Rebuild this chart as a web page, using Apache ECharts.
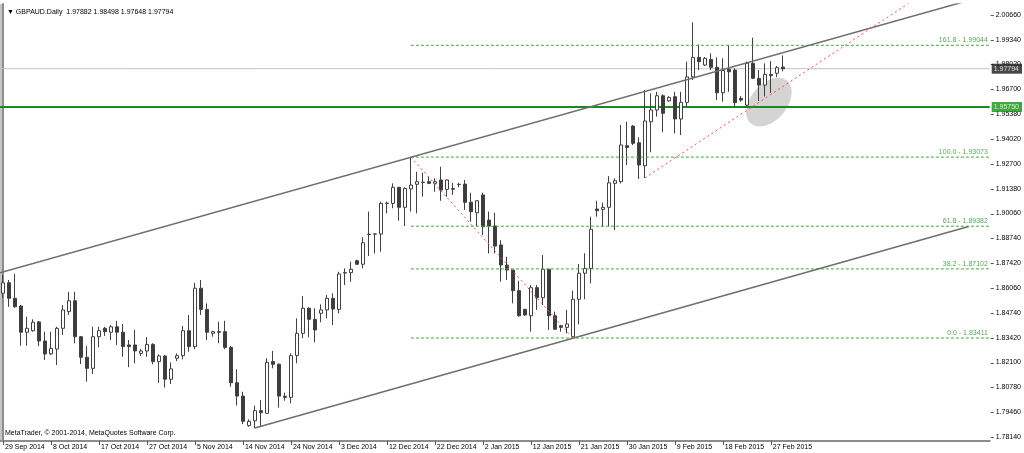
<!DOCTYPE html>
<html><head><meta charset="utf-8">
<script src="https://cdn.jsdelivr.net/npm/echarts@6/dist/echarts.min.js"></script>
<style>html,body{margin:0;padding:0;background:#fff}#c{width:1024px;height:453px}</style>
</head><body><div id="c"></div>
<script>
const symbolName = 'GBPAUD.Daily';
const copyrightText = 'MetaTrader, \u00a9 2001-2014, MetaQuotes Software Corp.';
const tickLabels = ['29 Sep 2014','8 Oct 2014','17 Oct 2014','27 Oct 2014','5 Nov 2014','14 Nov 2014','24 Nov 2014','3 Dec 2014','12 Dec 2014','22 Dec 2014','2 Jan 2015','12 Jan 2015','21 Jan 2015','30 Jan 2015','9 Feb 2015','18 Feb 2015','27 Feb 2015'];
const tickStep = 8;
const totalSlots = 165;
const priceTicks = [2.00660,1.99340,1.98020,1.96700,1.95380,1.94020,1.92700,1.91380,1.90060,1.88740,1.87420,1.86060,1.84740,1.83420,1.82100,1.80780,1.79460,1.78140];

const opens = [1.8580,1.8636,1.8553,1.8512,1.8372,1.8380,1.8427,1.8325,1.8256,1.8282,
1.8393,1.8482,1.8540,1.8348,1.8238,1.8179,1.8348,1.8393,1.8372,1.8401,
1.8372,1.8304,1.8304,1.8259,1.8272,1.8307,1.8215,1.8245,1.8121,1.8233,
1.8247,1.8380,1.8295,1.8607,1.8494,1.8366,1.8375,1.8375,1.8291,1.8102,
1.8031,1.7873,1.7899,1.7953,1.7939,1.8215,1.8201,1.8030,1.8024,1.8247,
1.8366,1.8500,1.8441,1.8473,1.8491,1.8553,1.8494,1.8688,1.8690,1.8754,
1.8735,1.8894,1.8896,1.8896,1.9060,1.9060,1.9146,1.9039,1.9137,1.9162,
1.9172,1.9176,1.9167,1.9185,1.9135,1.9135,1.9161,1.9163,1.9066,1.9010,
1.9105,1.8971,1.8939,1.8838,1.8731,1.8704,1.8594,1.8494,1.8460,1.8610,
1.8556,1.8708,1.8460,1.8407,1.8398,1.8348,1.8548,1.8687,1.8713,1.9030,
1.9028,1.9039,1.9167,1.9176,1.9368,1.9473,1.9384,1.9261,1.9496,1.9559,
1.9635,1.9608,1.9630,1.9511,1.9600,1.9736,1.9840,1.9799,1.9829,1.9787,
1.9651,1.9776,1.9772,1.9621,1.9585,1.9808,1.9728,1.9692,1.9749,1.9755,
1.97882];
const highs = [1.8678,1.8651,1.8683,1.8517,1.8455,1.8441,1.8432,1.8375,1.8375,1.8401,
1.8517,1.8588,1.8588,1.8352,1.8298,1.8401,1.8401,1.8401,1.8410,1.8433,
1.8416,1.8330,1.8384,1.8282,1.8346,1.8313,1.8254,1.8250,1.8211,1.8259,
1.8405,1.8464,1.8636,1.8651,1.8526,1.8380,1.8428,1.8433,1.8298,1.8174,
1.8054,1.7907,1.7980,1.8010,1.8233,1.8272,1.8205,1.8049,1.8259,1.8446,
1.8565,1.8505,1.8500,1.8521,1.8571,1.8580,1.8695,1.8713,1.8749,1.8759,
1.8879,1.9016,1.8900,1.9069,1.9069,1.9167,1.9148,1.9146,1.9307,1.9229,
1.9224,1.9202,1.9194,1.9256,1.9189,1.9170,1.9170,1.9185,1.9117,1.9078,
1.9117,1.9016,1.9010,1.8864,1.8775,1.8706,1.8647,1.8497,1.8624,1.8624,
1.8784,1.8710,1.8482,1.8410,1.8491,1.8594,1.8736,1.8794,1.8989,1.9074,
1.9064,1.9206,1.9194,1.9479,1.9496,1.9479,1.9413,1.9665,1.9648,1.9656,
1.9642,1.9633,1.9656,1.9656,1.9817,2.0027,1.9909,1.9842,1.9861,1.9840,
1.9835,1.9906,1.9781,1.9633,1.9817,1.9945,1.9772,1.9808,1.9820,1.9794,
1.98498];
const lows = [1.8555,1.8508,1.8503,1.8300,1.8300,1.8375,1.8298,1.8224,1.8250,1.8197,
1.8357,1.8464,1.8313,1.8202,1.8108,1.8149,1.8291,1.8352,1.8330,1.8304,
1.8241,1.8185,1.8206,1.8245,1.8241,1.8201,1.8102,1.8076,1.8095,1.8218,
1.8227,1.8268,1.8281,1.8464,1.8330,1.8348,1.8313,1.8281,1.8081,1.7980,
1.7882,1.7867,1.7859,1.7867,1.7936,1.8179,1.7969,1.8006,1.7992,1.8206,
1.8340,1.8345,1.8318,1.8425,1.8446,1.8410,1.8473,1.8624,1.8642,1.8731,
1.8713,1.8779,1.8793,1.8802,1.9007,1.9034,1.8968,1.8939,1.9016,1.9007,
1.9096,1.9163,1.9122,1.9074,1.9096,1.9105,1.9146,1.9025,1.8962,1.8939,
1.8891,1.8793,1.8793,1.8642,1.8651,1.8526,1.8455,1.8460,1.8375,1.8491,
1.8517,1.8384,1.8384,1.8375,1.8366,1.83411,1.8414,1.8548,1.8633,1.8989,
1.8935,1.8935,1.8918,1.9167,1.9265,1.9372,1.9190,1.9196,1.9333,1.9523,
1.9440,1.9603,1.9434,1.9425,1.9576,1.9719,1.9772,1.9793,1.9772,1.9612,
1.9603,1.9656,1.9577,1.9603,1.9573,1.9724,1.9607,1.9631,1.9650,1.9734,
1.97648];
const closes = [1.8636,1.8553,1.8508,1.8372,1.8393,1.8425,1.8325,1.8256,1.8286,1.8393,
1.8491,1.8540,1.8348,1.8238,1.8179,1.8348,1.8380,1.8375,1.8401,1.8372,
1.8295,1.8295,1.8272,1.8272,1.8307,1.8215,1.8245,1.8121,1.8176,1.8247,
1.8380,1.8295,1.8607,1.8494,1.8372,1.8375,1.8372,1.8291,1.8102,1.8031,
1.7896,1.7896,1.7953,1.7942,1.8211,1.8201,1.8031,1.8024,1.8247,1.8366,
1.8500,1.8441,1.8384,1.8491,1.8553,1.8496,1.8683,1.8690,1.8708,1.8735,
1.8850,1.8896,1.8897,1.9060,1.9061,1.9146,1.9039,1.9140,1.9158,1.9176,
1.9173,1.9167,1.9176,1.9131,1.9185,1.9140,1.9162,1.9066,1.9016,1.9074,
1.8935,1.8939,1.8832,1.8731,1.8704,1.8594,1.8460,1.8464,1.8610,1.8556,
1.8708,1.8460,1.8388,1.8398,1.8416,1.8548,1.8687,1.8713,1.8922,1.9021,
1.9039,1.9170,1.9181,1.9372,1.9359,1.9381,1.9265,1.9500,1.9559,1.9635,
1.9541,1.9626,1.9511,1.9600,1.9736,1.9840,1.9817,1.9835,1.9787,1.9651,
1.9770,1.9763,1.9598,1.9612,1.9808,1.9728,1.9692,1.9749,1.9742,1.9785,
1.97794];

const fibLevels = [161.8, 100.0, 61.8, 38.2, 0.0];
const fibPrices = [1.99044, 1.93073, 1.89382, 1.87102, 1.83411];
const fibStart = 68;
const fibEnd = 164.5;
const fibLabelAt = 164.2;
const lastPrice = 1.97794;
const supportPrice = 1.95750;
const channelUpper = [[-0.5, 1.8690], [161, 2.0144]];
const channelLower = [[42, 1.7860], [161, 1.8937]];
const redLine1 = [[68, 1.9307], [95, 1.83411]];
const redLine2 = [[107, 1.9196], [160, 2.0320]];
const ellipseCenter = [127.7, 1.9601];

const FONT = 'Liberation Sans';
const Y_MIN = 1.7791, Y_MAX = 2.0125;
const categories = Array.from({length: totalSlots}, (_, k) =>
  (k % tickStep === 0 && tickLabels[k / tickStep]) ? tickLabels[k / tickStep] : '');
const candleData = opens.map((o, i) => [o, closes[i], lows[i], highs[i]]);
const last = opens.length - 1;
const titleText = '\u25BC ' + symbolName + '  ' + [opens[last], highs[last], lows[last], closes[last]].map(v => v.toFixed(5)).join(' ');

const chart = echarts.init(document.getElementById('c'), null, {renderer: 'canvas'});
const lineSeries = (data, color, width, type, z) => ({
  type: 'line', xAxisIndex: 1, yAxisIndex: 0, data: data, symbol: 'none', silent: true,
  lineStyle: {color: color, width: width, type: type}, z: z, clip: true, animation: false
});
const priceBox = (p, bg) => ({
  type: 'scatter', xAxisIndex: 1, yAxisIndex: 0, silent: true, z: 10, symbolSize: 0, clip: false,
  data: [[fibEnd, p]],
  label: {show: true, position: 'right', distance: 2, formatter: () => p.toFixed(5),
    backgroundColor: bg, color: '#fff', padding: [2, 3, 1, 2], fontSize: 7, fontFamily: FONT}
});

const series = [
  {
    type: 'custom', xAxisIndex: 1, yAxisIndex: 0, silent: true, z: 1,
    data: [ellipseCenter],
    renderItem: function (params, api) {
      const p = api.coord([api.value(0), api.value(1)]);
      return {type: 'ellipse', x: p[0], y: p[1], rotation: 0.87,
        shape: {cx: 0, cy: 0, rx: 28, ry: 18}, style: {fill: '#d4d4d4'}};
    }
  },
  {
    // price-axis tick marks, placed on the right axis through the value scale
    type: 'custom', xAxisIndex: 1, yAxisIndex: 0, silent: true, z: 9, clip: false,
    data: priceTicks.map(v => [fibEnd, v]),
    renderItem: function (params, api) {
      const p = api.coord([api.value(0), api.value(1)]);
      return {type: 'line', shape: {x1: p[0] + 1, y1: Math.round(p[1]) + 0.5, x2: p[0] + 4, y2: Math.round(p[1]) + 0.5},
        style: {stroke: '#555', lineWidth: 1}};
    }
  },
  lineSeries([[-0.5, lastPrice], [fibEnd, lastPrice]], '#c3c3c3', 1, 'solid', 2),
  lineSeries([[-0.5, supportPrice], [fibEnd, supportPrice]], '#1d8a1d', 2, 'solid', 2),
  {
    type: 'candlestick', xAxisIndex: 0, yAxisIndex: 0, data: candleData, barWidth: 4, z: 3,
    itemStyle: {color: '#ffffff', color0: '#3c3c3c', borderColor: '#404040', borderColor0: '#404040', borderWidth: 1}
  },
  lineSeries(channelUpper, '#6e6e6e', 1.5, 'solid', 5),
  lineSeries(channelLower, '#6e6e6e', 1.5, 'solid', 5),
  lineSeries(redLine1, '#ff4a4a', 1, [2, 3], 5),
  lineSeries(redLine2, '#ff4a4a', 1, [2, 3], 5),
  priceBox(lastPrice, '#1a1a1a'),
  priceBox(supportPrice, '#139013')
];
fibPrices.forEach(p => series.push(lineSeries([[fibStart, p], [fibEnd, p]], '#3fa83f', 1, [3, 2], 4)));
series.push({
  type: 'scatter', xAxisIndex: 1, yAxisIndex: 0, silent: true, z: 6, symbolSize: 0,
  data: fibPrices.map((p, k) => ({value: [fibLabelAt, p], name: fibLevels[k].toFixed(1) + ' - ' + p.toFixed(5)})),
  label: {show: true, position: 'left', distance: 0, offset: [0, -5], formatter: d => d.name,
    color: '#2f8f2f', fontSize: 7, fontFamily: FONT}
});

chart.setOption({
  animation: false,
  backgroundColor: '#ffffff',
  title: {text: titleText, left: 2, top: 4, textStyle: {fontSize: 7, fontWeight: 'normal', color: '#000', fontFamily: FONT}},
  graphic: [
    {type: 'text', left: 5, top: 430, style: {text: copyrightText, fontSize: 7, fill: '#000', fontFamily: FONT}},
    {type: 'line', shape: {x1: 1, y1: 4, x2: 1, y2: 441}, style: {stroke: '#8c8c8c', lineWidth: 1}, silent: true}
  ],
  grid: {left: 0, right: 33, top: 4, bottom: 12, containLabel: false},
  xAxis: [
    {type: 'category', data: categories, boundaryGap: true,
      axisLine: {show: true, lineStyle: {color: '#8c8c8c', width: 2}},
      axisTick: {show: true, alignWithLabel: true, length: 4, interval: (i, v) => v !== '', lineStyle: {color: '#555'}},
      axisLabel: {show: true, interval: (i, v) => v !== '', align: 'left', margin: 3, padding: [0, 0, 0, 2],
        fontSize: 7, color: '#000', fontFamily: FONT},
      splitLine: {show: false}},
    {type: 'value', min: -0.5, max: totalSlots - 0.5, show: false}
  ],
  yAxis: [
    {type: 'value', position: 'right', min: Y_MIN, max: Y_MAX, scale: true,
      axisLine: {show: true, lineStyle: {color: '#8c8c8c', width: 2}},
      axisTick: {show: false},
      axisLabel: {show: true, customValues: priceTicks, formatter: v => v.toFixed(5), margin: 6,
        fontSize: 7, color: '#000', fontFamily: FONT},
      splitLine: {show: false}}
  ],
  series: series
});
</script></body></html>
